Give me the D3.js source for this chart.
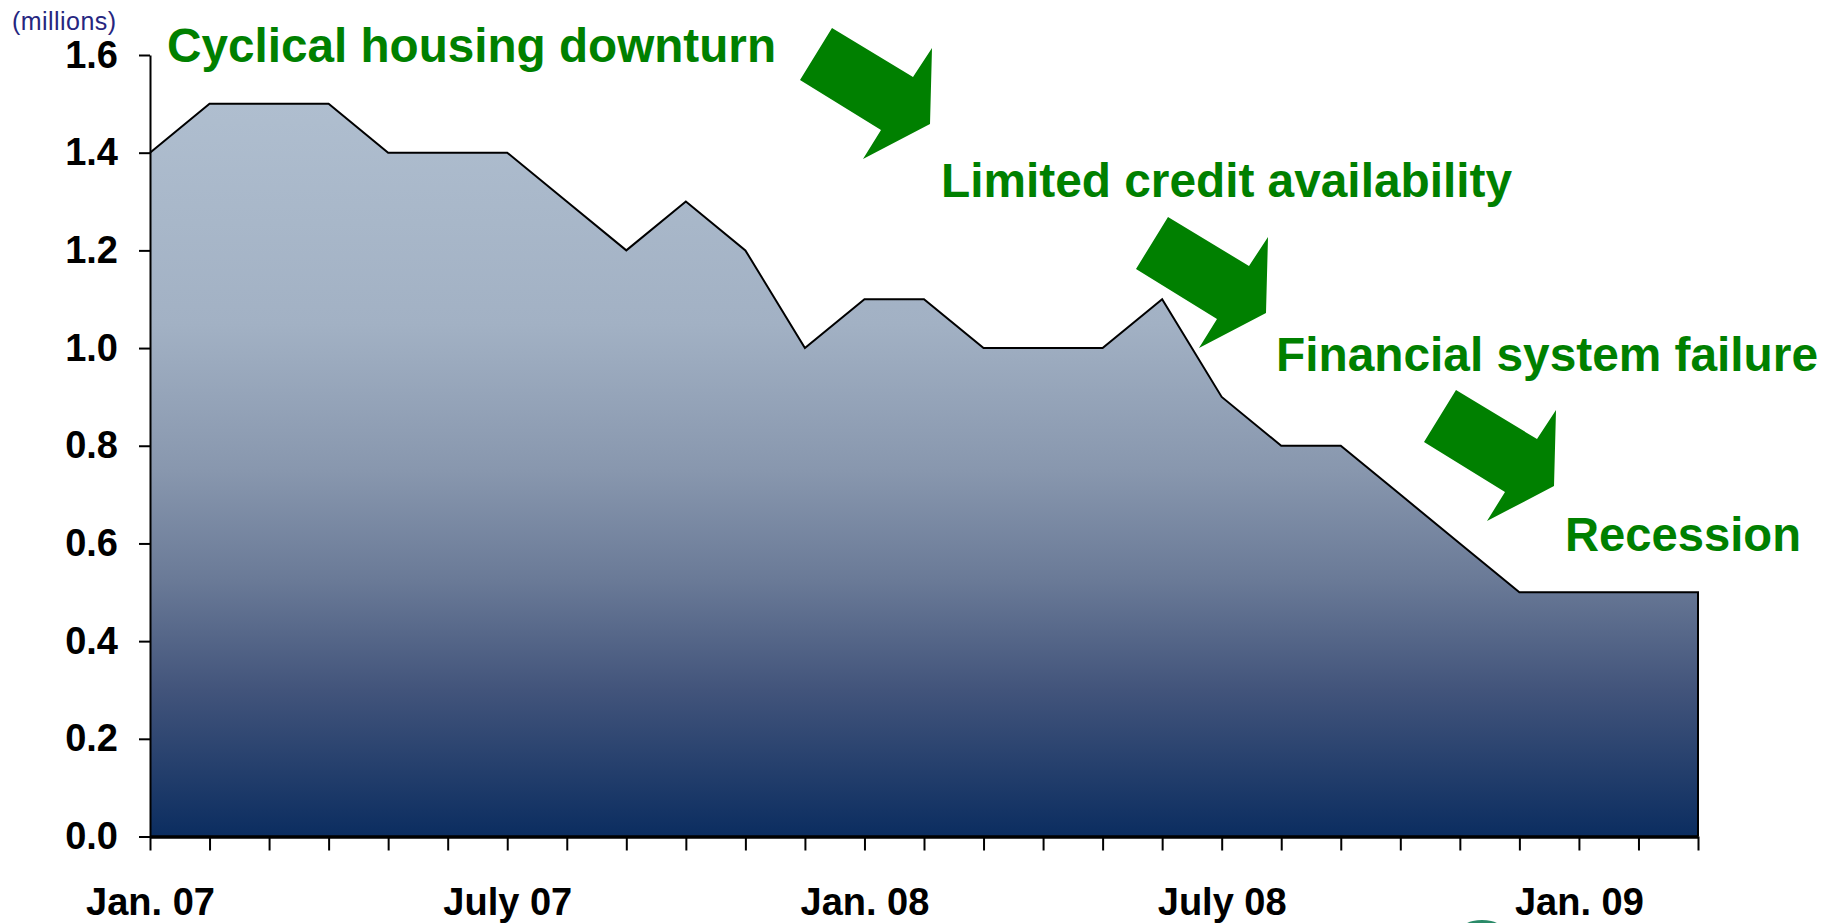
<!DOCTYPE html>
<html>
<head>
<meta charset="utf-8">
<script src="https://cdn.jsdelivr.net/npm/d3@7"></script>
<style>
  html, body { margin: 0; padding: 0; background: #fff; }
  svg { display: block; font-family: 'Liberation Sans', Arial, sans-serif; }
</style>
</head>
<body>
<svg width="1837" height="923"></svg>
<script>
'use strict'

// monthly, Jan. 07 .. Mar. 09
const months = ['Jan. 07', 'Feb 07', 'Mar 07', 'Apr 07', 'May 07', 'June 07', 'July 07', 'Aug 07', 'Sep 07', 'Oct 07', 'Nov 07', 'Dec 07',
    'Jan. 08', 'Feb 08', 'Mar 08', 'Apr 08', 'May 08', 'June 08', 'July 08', 'Aug 08', 'Sep 08', 'Oct 08', 'Nov 08', 'Dec 08',
    'Jan. 09', 'Feb 09', 'Mar 09']
const values = [1.4, 1.5, 1.5, 1.5, 1.4, 1.4, 1.4, 1.3, 1.2, 1.3, 1.2, 1.0,
    1.1, 1.1, 1.0, 1.0, 1.0, 1.1, 0.9, 0.8, 0.8, 0.7, 0.6, 0.5,
    0.5, 0.5, 0.5]
const shownLabels = ['Jan. 07', 'July 07', 'Jan. 08', 'July 08', 'Jan. 09']
const yTicks = [0, 0.2, 0.4, 0.6, 0.8, 1.0, 1.2, 1.4, 1.6]

const notes = [
    { text: 'Cyclical housing downturn', x: 167, y: 62, len: 609 },
    { text: 'Limited credit availability', x: 941, y: 197, len: 571 },
    { text: 'Financial system failure', x: 1276, y: 371, len: 542 },
    { text: 'Recession', x: 1565, y: 551, len: 236 }
]
const arrowAt = [[832, 28], [1168, 217], [1456, 390]]
const arrowShape = [[0, 0], [81, 49], [100, 20], [98, 96], [31, 131], [49, 102], [-32, 52]]

const svg = d3.select('svg')
const green = '#008000'

const x = d3.scalePoint().domain(months).range([150, 1698])
const y = d3.scaleLinear().domain([0, 1.6]).range([836.5, 55])

const data = months.map((m, i) => ({ m, v: values[i] }))

// gradient fill of the area
const grad = svg.append('defs').append('linearGradient')
    .attr('id', 'fill')
    .attr('gradientUnits', 'userSpaceOnUse')
    .attr('x1', 0).attr('x2', 0)
    .attr('y1', y(1.5)).attr('y2', y(0))
const stops = [[0, '#afbecf'], [0.3, '#a2b1c4'], [0.5, '#8897ae'], [0.65, '#6a7a97'], [0.8, '#42547b'], [1, '#0b2d60']]
grad.selectAll('stop').data(stops).enter().append('stop')
    .attr('offset', d => d[0])
    .attr('stop-color', d => d[1])

const area = d3.area().x(d => x(d.m)).y0(y(0)).y1(d => y(d.v))
svg.append('path')
    .datum(data)
    .attr('d', area)
    .attr('fill', 'url(#fill)')

const last = data[data.length - 1]
const line = d3.line().x(d => x(d.m)).y(d => y(d.v))
svg.append('path')
    .datum(data.concat([{ m: last.m, v: 0 }]))
    .attr('d', line)
    .attr('fill', 'none')
    .attr('stroke', '#000')
    .attr('stroke-width', 2)

// y axis
const yAxis = svg.append('g')
    .attr('transform', `translate(${x(months[0])},0)`)
    .call(d3.axisLeft(y).tickValues(yTicks).tickFormat(d3.format('.1f')).tickSize(11).tickSizeOuter(0).tickPadding(21))
yAxis.select('.domain').attr('stroke-width', 2)
yAxis.selectAll('.tick line').attr('stroke-width', 2)
yAxis.selectAll('text')
    .attr('font-size', 38)
    .attr('font-weight', 'bold')
    .attr('font-family', "'Liberation Sans', Arial, sans-serif")
    .attr('fill', '#000')

// x axis
const xAxis = svg.append('g')
    .attr('transform', `translate(0,${y(0)})`)
    .call(d3.axisBottom(x).tickFormat(d => shownLabels.includes(d) ? d : '').tickSize(14).tickSizeOuter(0))
xAxis.select('.domain').attr('stroke-width', 3.5)
xAxis.selectAll('.tick line').attr('stroke-width', 2)
xAxis.selectAll('text')
    .attr('y', 78)
    .attr('dy', 0)
    .attr('font-size', 38)
    .attr('font-weight', 'bold')
    .attr('font-family', "'Liberation Sans', Arial, sans-serif")
    .attr('fill', '#000')

svg.append('text')
    .attr('x', 12)
    .attr('y', 30)
    .attr('font-size', 25)
    .attr('textLength', 104)
    .attr('fill', '#262680')
    .text('(millions)')

// annotations
svg.selectAll('.note')
    .data(notes)
    .enter()
    .append('text')
    .attr('class', 'note')
    .attr('x', d => d.x)
    .attr('y', d => d.y)
    .attr('textLength', d => d.len)
    .attr('lengthAdjust', 'spacingAndGlyphs')
    .attr('font-size', 48)
    .attr('font-weight', 'bold')
    .attr('fill', green)
    .text(d => d.text)

svg.selectAll('.arrow')
    .data(arrowAt)
    .enter()
    .append('polygon')
    .attr('class', 'arrow')
    .attr('points', d => arrowShape.map(p => [p[0] + d[0], p[1] + d[1]].join(',')).join(' '))
    .attr('fill', green)

// cut-off logo at the bottom edge
svg.append('ellipse')
    .attr('cx', 1482).attr('cy', 934)
    .attr('rx', 24).attr('ry', 14)
    .attr('fill', '#2a8a68')
</script>
</body>
</html>
